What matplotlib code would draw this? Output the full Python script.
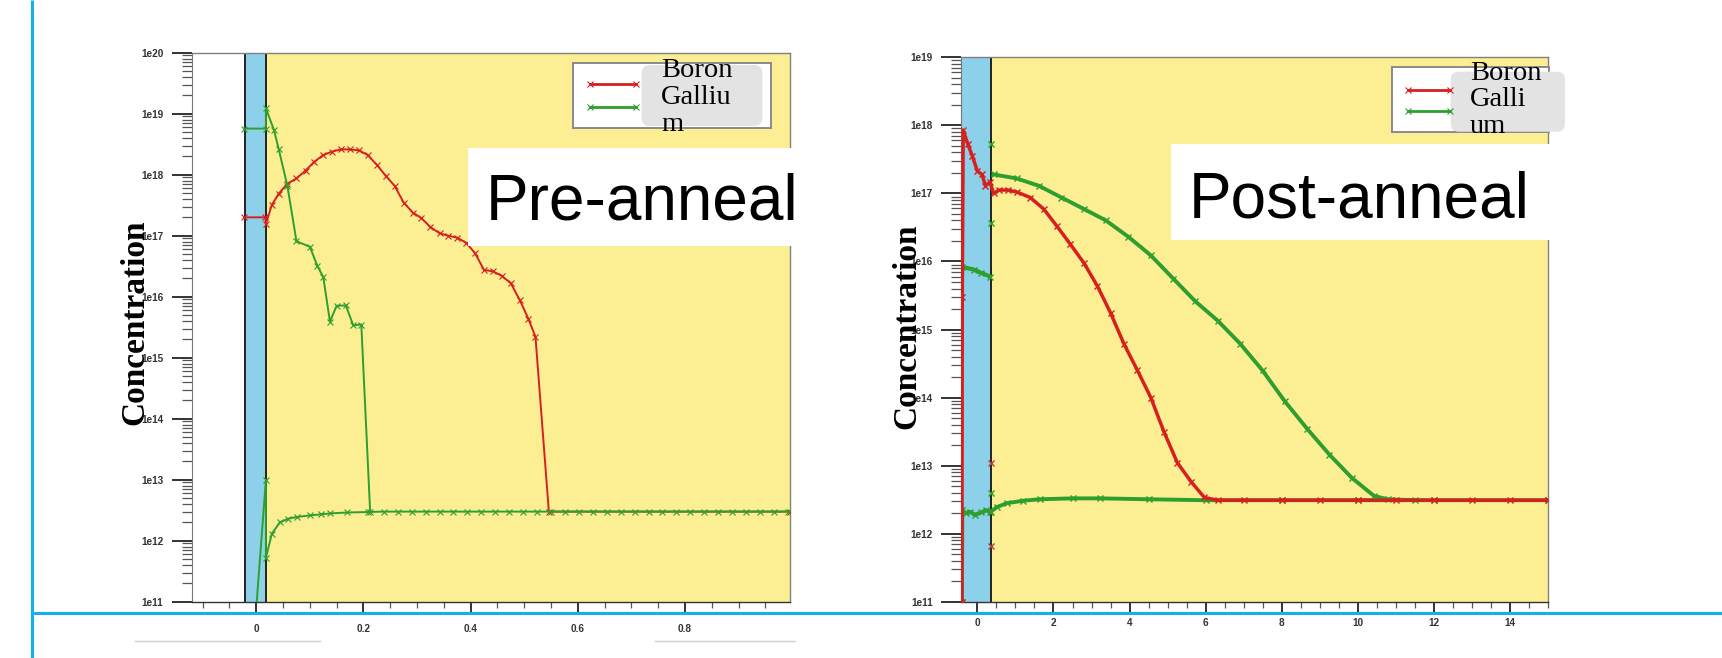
"""
Pre-/post-anneal dopant profiles (Boron, Gallium), slide-style recreation.
Two log-scale concentration panels with oxide band, legends and overlay labels.
"""
import matplotlib
matplotlib.use("Agg")
import matplotlib.pyplot as plt
from matplotlib.ticker import LogLocator, MultipleLocator, FuncFormatter, NullFormatter
from matplotlib.patches import Rectangle, FancyBboxPatch
import numpy as np

# ---------------- data ----------------
# Pre-anneal
pre_boron_x = [-0.023, 0.017, 0.018, 0.029, 0.042, 0.058, 0.075, 0.092, 0.108, 0.125,
               0.142, 0.158, 0.175, 0.192, 0.208, 0.225, 0.242, 0.258, 0.275, 0.292,
               0.308, 0.325, 0.342, 0.358, 0.375, 0.392, 0.408, 0.425, 0.442, 0.458,
               0.475, 0.492, 0.508, 0.521, 0.546, 0.996]
pre_boron_c = [2.0e17, 2.0e17, 1.55e17, 3.2e17, 4.9e17, 7.1e17, 8.7e17, 1.17e18, 1.62e18, 2.1e18,
               2.4e18, 2.6e18, 2.6e18, 2.5e18, 2.1e18, 1.45e18, 9.5e17, 6.6e17, 3.5e17, 2.4e17,
               1.95e17, 1.38e17, 1.1e17, 1.0e17, 9.3e16, 7.6e16, 5.2e16, 2.75e16, 2.6e16, 2.2e16,
               1.66e16, 8.7e15, 4.3e15, 2.2e15, 3.0e12, 3.0e12]

pre_ga_hi_x = [-0.023, 0.018, 0.018, 0.033, 0.042, 0.058, 0.075, 0.100, 0.114, 0.125,
               0.1375, 0.150, 0.167, 0.181, 0.196, 0.2125]
pre_ga_hi_c = [5.7e18, 5.7e18, 1.22e19, 5.4e18, 2.6e18, 6.6e17, 8.1e16, 6.6e16, 3.2e16, 2.1e16,
               3.9e15, 7.1e15, 7.2e15, 3.4e15, 3.5e15, 3.0e12]

pre_ga_lo_x = [0.0, 0.018, 0.018, 0.029, 0.044, 0.060, 0.076, 0.100, 0.120, 0.138, 0.170,
               0.208, 0.238, 0.264, 0.290, 0.316, 0.342, 0.368, 0.394, 0.420, 0.446, 0.472,
               0.498, 0.524, 0.550, 0.576, 0.602, 0.628, 0.654, 0.680, 0.706, 0.732, 0.758,
               0.784, 0.810, 0.836, 0.862, 0.888, 0.914, 0.940, 0.966, 0.992]
pre_ga_lo_c = [8e10, 1.0e13, 5.2e11, 1.3e12, 2.0e12, 2.3e12, 2.45e12, 2.6e12, 2.7e12, 2.8e12, 2.9e12,
               2.95e12, 3.0e12, 3.0e12, 3.0e12, 3.0e12, 3.0e12, 3.0e12, 3.0e12, 3.0e12, 3.0e12, 3.0e12,
               3.0e12, 3.0e12, 3.0e12, 3.0e12, 3.0e12, 3.0e12, 3.0e12, 3.0e12, 3.0e12, 3.0e12, 3.0e12,
               3.0e12, 3.0e12, 3.0e12, 3.0e12, 3.0e12, 3.0e12, 3.0e12, 3.0e12, 3.0e12]

# Post-anneal
post_boron_x = [-0.41, -0.40, -0.376, -0.26, -0.14, 0.0, 0.118, 0.21, 0.33, 0.423, 0.564,
                0.80, 1.03, 1.39, 1.74, 2.09, 2.44, 2.80, 3.15, 3.50, 3.85, 4.21, 4.56,
                4.91, 5.26, 5.62, 5.97, 6.32, 7.0, 8.0, 9.0, 10.0, 11.0, 12.0, 13.0, 14.0, 15.0]
post_boron_c = [1e11, 3e15, 8.5e17, 5.4e17, 3.6e17, 2.1e17, 1.9e17, 1.3e17, 1.46e17, 1.0e17, 1.12e17,
                1.12e17, 1.05e17, 8.7e16, 5.9e16, 3.3e16, 1.8e16, 9.5e15, 4.4e15, 1.76e15, 6.2e14, 2.5e14,
                1.0e14, 3.1e13, 1.1e13, 5.8e12, 3.4e12, 3.1e12, 3.1e12, 3.1e12, 3.1e12, 3.1e12, 3.1e12,
                3.1e12, 3.1e12, 3.1e12, 3.1e12]

post_ga_ox_x = [-0.40, -0.10, 0.10, 0.33]
post_ga_ox_c = [8.3e15, 7.6e15, 6.8e15, 6.0e15]

post_ga_hi_x = [0.423, 1.03, 1.62, 2.21, 2.80, 3.38, 3.97, 4.56, 5.15, 5.73, 6.32, 6.91,
                7.50, 8.08, 8.67, 9.26, 9.85, 10.43, 10.79, 11.5]
post_ga_hi_c = [1.9e17, 1.66e17, 1.29e17, 8.7e16, 5.9e16, 4.0e16, 2.3e16, 1.23e16, 5.6e15, 2.6e15,
                1.35e15, 6.2e14, 2.5e14, 8.9e13, 3.5e13, 1.45e13, 6.6e12, 3.6e12, 3.2e12, 3.1e12]

post_ga_lo_x = [-0.41, -0.40, -0.30, -0.20, -0.07, 0.09, 0.22, 0.33, 0.35, 0.505, 0.77, 1.2,
                1.64, 2.51, 3.22, 4.5, 6.0, 8.0, 10.0, 12.0, 15.0]
post_ga_lo_c = [1e11, 2.2e12, 2.0e12, 2.1e12, 1.9e12, 2.05e12, 2.2e12, 2.1e12, 2.1e12, 2.45e12,
                2.8e12, 3.05e12, 3.2e12, 3.3e12, 3.3e12, 3.2e12, 3.1e12, 3.1e12, 3.1e12, 3.1e12, 3.1e12]

# loose markers sitting on the oxide/silicon interface
post_iface_ga_c = [5.4e17, 3.7e16, 4.0e12]
post_iface_b_c = [1.1e13, 6.5e11]

pre_band = (-0.021, 0.0176)
post_band = (-0.434, 0.347)

# ---------------- style ----------------
YELLOW = "#fcef93"
BAND = "#8dd0e9"
RED = "#d62020"
GREEN = "#2e9e2e"
SLIDE_BLUE = "#13b0ec"

W, H = 1722, 658
fig = plt.figure(figsize=(W / 100, H / 100), dpi=100)
fig.patch.set_facecolor("white")


def px_axes(l, r, t, b):
    return fig.add_axes([l / W, 1 - b / H, (r - l) / W, (b - t) / H])


def style_axes(ax, xlim, ylim, band, xmaj, xmin, xpad):
    ax.set_yscale("log")
    ax.set_xlim(*xlim)
    ax.set_ylim(*ylim)
    ax.set_facecolor("white")
    ax.axvspan(band[0], band[1], color=BAND, zorder=0, lw=0)
    ax.axvspan(band[1], xlim[1], color=YELLOW, zorder=0, lw=0)
    for xb in band:
        ax.axvline(xb, color="#222222", lw=1.4, zorder=1)
    ax.yaxis.set_major_locator(LogLocator(base=10, numticks=20))
    ax.yaxis.set_minor_locator(LogLocator(base=10, subs=np.arange(2, 10), numticks=200))
    ax.yaxis.set_major_formatter(FuncFormatter(lambda v, p: "1e%d" % round(np.log10(v))))
    ax.yaxis.set_minor_formatter(NullFormatter())
    ax.xaxis.set_major_locator(MultipleLocator(xmaj))
    ax.xaxis.set_minor_locator(MultipleLocator(xmin))
    ax.xaxis.set_major_formatter(FuncFormatter(lambda v, p: "%g" % round(v, 6)))
    ax.tick_params(axis="y", which="major", length=14.4, width=1.4, color="#333333", pad=6,
                   labelsize=7.2, labelcolor="#333333")
    ax.tick_params(axis="y", which="minor", length=7, width=0.9, color="#555555")
    ax.tick_params(axis="x", which="major", length=7.2, width=1.4, color="#333333", pad=xpad,
                   labelsize=7.2, labelcolor="#333333")
    ax.tick_params(axis="x", which="minor", length=4.5, width=0.9, color="#555555")
    for lab in ax.get_xticklabels() + ax.get_yticklabels():
        lab.set_fontweight("bold")
        lab.set_family("Liberation Sans")
    for s in ("top", "right"):
        ax.spines[s].set_color("#808080")
        ax.spines[s].set_linewidth(1.0)
    ax.spines["left"].set_color("#777777")
    ax.spines["bottom"].set_color("#333333")
    ax.spines["bottom"].set_linewidth(1.0)


pre_kw = dict(marker="x", markersize=4, markeredgewidth=0.8)
post_kw = dict(marker="x", markersize=5, markeredgewidth=1.0)

# ---- pre-anneal panel ----
ax1 = px_axes(191.7, 790, 52.7, 601.7)
style_axes(ax1, (-0.1205, 0.996), (1e11, 1e20), pre_band, 0.2, 0.05, 8.8)
ax1.plot(pre_boron_x, pre_boron_c, color=RED, lw=1.4, zorder=3, **pre_kw)
ax1.plot(pre_ga_hi_x, pre_ga_hi_c, color=GREEN, lw=1.4, zorder=4, **pre_kw)
ax1.plot(pre_ga_lo_x, pre_ga_lo_c, color=GREEN, lw=1.4, zorder=4, **pre_kw)

# ---- post-anneal panel ----
ax2 = px_axes(961, 1548.3, 57.3, 601.7)
style_axes(ax2, (-0.434, 15.02), (1e11, 1e19), post_band, 2, 0.5, 4.5)
ax2.plot(post_ga_ox_x, post_ga_ox_c, color=GREEN, lw=3.0, zorder=3, **post_kw)
ax2.plot(post_ga_hi_x, post_ga_hi_c, color=GREEN, lw=2.8, zorder=3, **post_kw)
ax2.plot(post_ga_lo_x, post_ga_lo_c, color=GREEN, lw=2.8, zorder=3, **post_kw)
ax2.plot(post_boron_x, post_boron_c, color=RED, lw=2.5, zorder=4, **post_kw)
ax2.plot([post_band[1]] * len(post_iface_ga_c), post_iface_ga_c, ls="none", color=GREEN,
         zorder=5, marker="x", markersize=5, markeredgewidth=1)
ax2.plot([post_band[1]] * len(post_iface_b_c), post_iface_b_c, ls="none", color="#b04040",
         zorder=5, marker="x", markersize=5, markeredgewidth=1)

# ---- overlay in pixel coordinates (slide decoration, legends, labels) ----
ov = fig.add_axes([0, 0, 1, 1], zorder=10)
ov.set_xlim(0, W)
ov.set_ylim(H, 0)
ov.axis("off")

ov.plot([31.5, 31.5], [0, H], color=SLIDE_BLUE, lw=2.2, solid_capstyle="butt")
ov.plot([31.5, W], [613.3, 613.3], color=SLIDE_BLUE, lw=2.2, solid_capstyle="butt")
ov.plot([135, 320], [641, 641], color="#d0d0d0", lw=1)
ov.plot([655, 795], [641, 641], color="#d0d0d0", lw=1)

serif = ["Liberation Serif", "DejaVu Serif"]
sans = ["Liberation Sans", "DejaVu Sans"]

ov.text(134.5, 322, "Concentration", rotation=90, ha="center", va="center",
        fontsize=24, fontweight="bold", family=serif)
ov.text(907, 326.5, "Concentration", rotation=90, ha="center", va="center",
        fontsize=24, fontweight="bold", family=serif)

# title boxes
ov.add_patch(Rectangle((467.7, 148), 798 - 467.7, 245.7 - 148, color="white", lw=0))
ov.text(486, 220, "Pre-anneal", ha="left", va="baseline", fontsize=46, family=sans)
ov.add_patch(Rectangle((1171, 144.2), 1549.7 - 1171, 240.4 - 144.2, color="white", lw=0))
ov.text(1189, 217, "Post-anneal", ha="left", va="baseline", fontsize=46, family=sans)


def legend(box, ry, gy, lx, gbox, tx, ty, label):
    x0, y0, x1, y1 = box
    ov.add_patch(Rectangle((x0, y0), x1 - x0, y1 - y0, facecolor="white",
                           edgecolor="#8a8a8a", lw=1.4))
    ov.plot(lx, [ry, ry], color=RED, lw=2, marker="x", markersize=5, markeredgewidth=0.8)
    ov.plot(lx, [gy, gy], color=GREEN, lw=2, marker="x", markersize=5, markeredgewidth=0.8)
    gx0, gy0, gx1, gy1 = gbox
    ov.add_patch(FancyBboxPatch((gx0 + 8, gy0 + 8), gx1 - gx0 - 16, gy1 - gy0 - 16,
                                boxstyle="round,pad=8", facecolor="#e3e3e3", edgecolor="none"))
    ov.text(tx, ty, label, ha="left", va="center", fontsize=20.5, family=serif,
            linespacing=1.1)


legend((573.3, 63.3, 770.7, 128.3), 84.3, 106.7, [590, 636],
       (641.7, 65, 762.3, 126), 661, 97.5, "Boron\nGalliu\nm")
legend((1391.7, 67.3, 1549.3, 131.7), 90, 111, [1408, 1450],
       (1450.7, 71.7, 1565, 131.7), 1470, 100, "Boron\nGalli\num")

fig.savefig("out.png", dpi=100)
